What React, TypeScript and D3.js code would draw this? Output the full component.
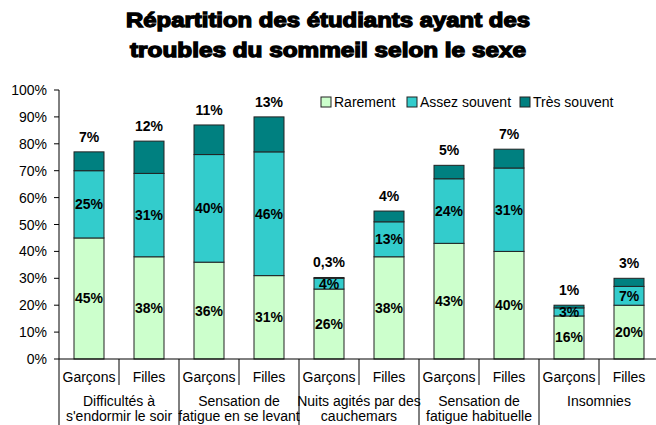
import React from "react";
import * as d3 from "d3";

const groups = [
  ["Difficultés à", "s'endormir le soir"],
  ["Sensation de", "fatigue en se levant"],
  ["Nuits agités par des", "cauchemars"],
  ["Sensation de", "fatigue habituelle"],
  ["Insomnies"],
];
const sexes = ["Garçons", "Filles"];
const seriesNames = ["Rarement", "Assez souvent", "Très souvent"];
const rarement = [45, 38, 36, 31, 26, 38, 43, 40, 16, 20];
const assez = [25, 31, 40, 46, 4, 13, 24, 31, 3, 7];
const tres = [7, 12, 11, 13, 0.3, 4, 5, 7, 1, 3];
const yTicks = [0, 10, 20, 30, 40, 50, 60, 70, 80, 90, 100];
const colors = ["#CCFFCC", "#33CCCC", "#008080"];

const W = 656;
const H = 425;
const left = 59;
const right = 659;
const top = 90;
const bottom = 359;
const font = "'Liberation Sans', Arial, sans-serif";

const fmt = (v: number) => (v < 1 ? String(v).replace(".", ",") : String(Math.round(v))) + "%";

export default function App() {
  const bars = groups.flatMap((g, gi) => sexes.map((s, si) => ({ gi, si, idx: gi * 2 + si })));
  const x = d3.scaleBand<number>().domain(bars.map((b) => b.idx)).range([left, right]).paddingInner(0.5).paddingOuter(0.25);
  const y = d3.scaleLinear().domain([0, 100]).range([bottom, top]);
  const rows = bars.map((b) => ({ idx: b.idx, r: rarement[b.idx], a: assez[b.idx], t: tres[b.idx] }));
  const stack = d3.stack<any>().keys(["r", "a", "t"])(rows);
  const groupX = d3.scaleBand<number>().domain(groups.map((_, i) => i)).range([left, right]);
  const slot = (right - left) / bars.length;

  const legendItems = [
    { x: 321, tx: 334 },
    { x: 407, tx: 420 },
    { x: 520, tx: 533 },
  ];

  return (
    <svg width={W} height={H} style={{ position: "absolute", left: 0, top: 0, background: "#fff" }} fontFamily={font}>
      <text x={328} y={27} textAnchor="middle" fontSize={20} fontWeight={900} stroke="#000" strokeWidth={1.3} textLength={404} lengthAdjust="spacingAndGlyphs">
        Répartition des étudiants ayant des
      </text>
      <text x={328} y={57} textAnchor="middle" fontSize={20} fontWeight={900} stroke="#000" strokeWidth={1.3} textLength={396} lengthAdjust="spacingAndGlyphs">
        troubles du sommeil selon le sexe
      </text>

      {/* y axis */}
      <line x1={left} x2={left} y1={top} y2={bottom} stroke="#000" />
      {yTicks.map((t) => (
        <g key={t}>
          <line x1={left - 5} x2={left} y1={y(t)} y2={y(t)} stroke="#000" />
          <text x={47} y={y(t) + 5} textAnchor="end" fontSize={14}>
            {t}%
          </text>
        </g>
      ))}

      {/* bars */}
      {stack.map((layer, li) =>
        layer.map((d, i) => (
          <rect
            key={li + "-" + i}
            x={x(rows[i].idx)}
            y={y(d[1])}
            width={x.bandwidth()}
            height={y(d[0]) - y(d[1])}
            fill={colors[li]}
            stroke="#222"
            strokeWidth={1}
          />
        ))
      )}

      {/* inner labels */}
      {stack.slice(0, 2).map((layer, li) =>
        layer.map((d, i) => (
          <text
            key={"l" + li + "-" + i}
            x={x(rows[i].idx)! + x.bandwidth() / 2}
            y={(y(d[0]) + y(d[1])) / 2 + 5}
            textAnchor="middle"
            fontSize={14}
            fontWeight="bold"
          >
            {fmt(li === 0 ? rows[i].r : rows[i].a)}
          </text>
        ))
      )}
      {stack[2].map((d, i) => (
        <text key={"t" + i} x={x(rows[i].idx)! + x.bandwidth() / 2} y={y(d[1]) - 10} textAnchor="middle" fontSize={14} fontWeight="bold">
          {fmt(rows[i].t)}
        </text>
      ))}

      {/* x axis */}
      <line x1={left} x2={W} y1={bottom} y2={bottom} stroke="#000" />
      {groups.map((g, gi) => (
        <g key={"g" + gi}>
          <line x1={groupX(gi)!} x2={groupX(gi)!} y1={bottom} y2={H} stroke="#000" />
          <line x1={groupX(gi)! + groupX.bandwidth() / 2} x2={groupX(gi)! + groupX.bandwidth() / 2} y1={bottom} y2={385} stroke="#000" />
          {g.map((line, li) => (
            <text key={li} x={groupX(gi)! + groupX.bandwidth() / 2} y={406 + li * 15} textAnchor="middle" fontSize={14}>
              {line}
            </text>
          ))}
        </g>
      ))}
      {bars.map((b) => (
        <text key={"s" + b.idx} x={left + slot * (b.idx + 0.5)} y={382} textAnchor="middle" fontSize={14}>
          {sexes[b.si]}
        </text>
      ))}

      {/* legend */}
      {seriesNames.map((n, i) => (
        <g key={n}>
          <rect x={legendItems[i].x} y={97} width={10} height={10} fill={colors[i]} stroke="#222" />
          <text x={legendItems[i].tx} y={107} fontSize={14}>
            {n}
          </text>
        </g>
      ))}
    </svg>
  );
}
